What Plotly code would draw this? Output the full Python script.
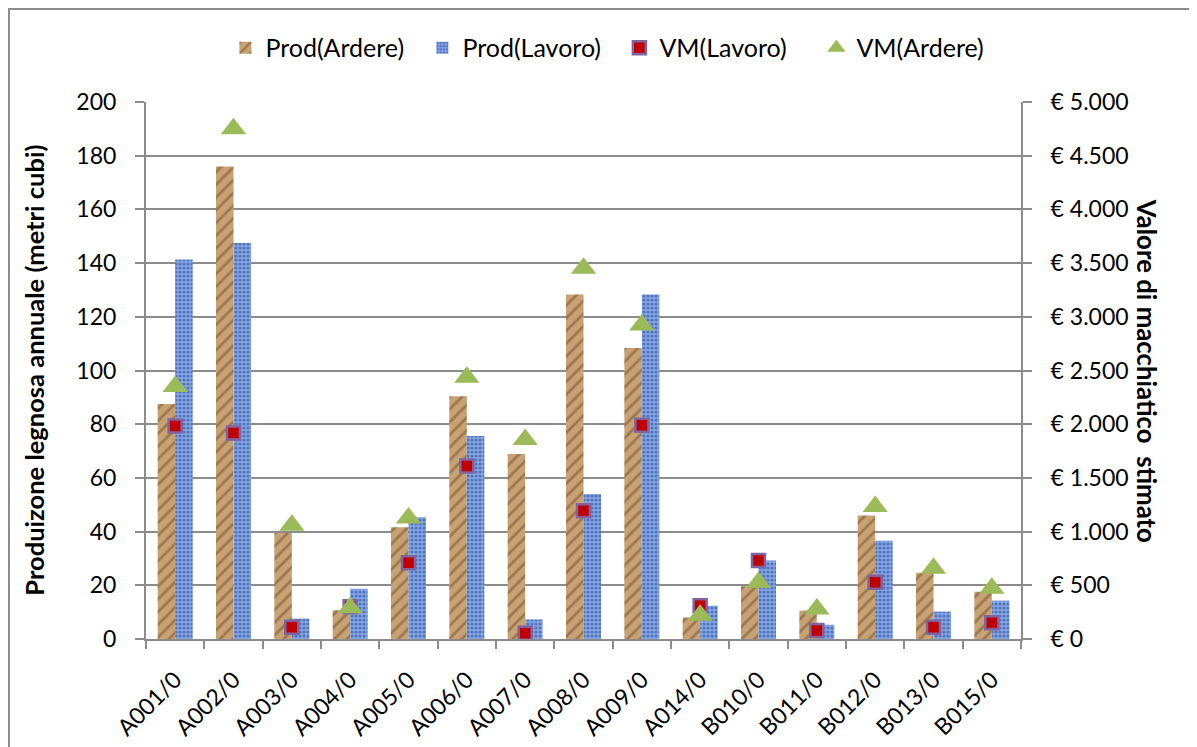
import plotly.graph_objects as go

categories = ["A001/0", "A002/0", "A003/0", "A004/0", "A005/0", "A006/0", "A007/0",
              "A008/0", "A009/0", "A014/0", "B010/0", "B011/0", "B012/0", "B013/0", "B015/0"]
prod_ardere = [87.5, 176, 39.5, 10.7, 41.6, 90.4, 68.9, 128.3, 108.4, 8, 19.6, 10.6, 46, 24.7, 17.6]
prod_lavoro = [141.3, 147.5, 7.6, 18.7, 45.3, 75.6, 7.3, 54, 128.3, 12.4, 29.2, 5.3, 36.6, 10.2, 14.3]
vm_lavoro = [1983, 1917, 110, 300, 710, 1610, 53, 1193, 1990, 310, 730, 78, 528, 109, 152]
vm_ardere = [2350, 4750, 1060, 290, 1127, 2437, 1857, 3453, 2923, 220, 525, 280, 1233, 658, 472]

left_ticks = [0, 20, 40, 60, 80, 100, 120, 140, 160, 180, 200]
right_ticks = [0, 500, 1000, 1500, 2000, 2500, 3000, 3500, 4000, 4500, 5000]
right_tick_text = ["€\u00a00", "€\u00a0500", "€\u00a01.000", "€\u00a01.500", "€\u00a02.000",
                   "€\u00a02.500", "€\u00a03.000", "€\u00a03.500", "€\u00a04.000",
                   "€\u00a04.500", "€\u00a05.000"]

FONT = "Lato"
GRID = "#8c8c8c"

fig = go.Figure()
fig.add_trace(go.Bar(
    x=categories, y=prod_ardere, name="Prod(Ardere)",
    marker=dict(color="#c49c6e", line=dict(width=0),
                pattern=dict(shape="/", fgcolor="#6e4a28", bgcolor="#c9a274",
                             size=9, solidity=0.3, fillmode="overlay")),
))
fig.add_trace(go.Bar(
    x=categories, y=prod_lavoro, name="Prod(Lavoro)",
    marker=dict(color="#7fa2e3", line=dict(width=0),
                pattern=dict(shape=".", fgcolor="#1f3f85", bgcolor="#86a9ea",
                             size=4, solidity=0.5, fillmode="overlay")),
))
fig.add_trace(go.Scatter(
    x=categories, y=vm_lavoro, name="VM(Lavoro)", yaxis="y2", mode="markers",
    marker=dict(symbol="square", size=13, color="#c00000",
                line=dict(color="#8064a2", width=2.5)),
))
fig.add_trace(go.Scatter(
    x=categories, y=vm_ardere, name="VM(Ardere)", yaxis="y2", mode="markers",
    marker=dict(symbol="triangle-up", size=22, color="#9bbb59",
                line=dict(width=0)),
))

fig.update_layout(
    width=1189, height=739,
    margin=dict(l=138, r=176, t=94, b=108, autoexpand=False),
    paper_bgcolor="white", plot_bgcolor="white",
    font=dict(family=FONT, size=23, color="black"),
    barmode="group", bargap=0.4, bargroupgap=0,
    showlegend=True,
    legend=dict(orientation="h", x=0.541, xanchor="center", y=1.1006, yanchor="middle",
                font=dict(family=FONT, size=25), itemwidth=30, traceorder="normal",
                entrywidth=152, entrywidthmode="pixels",
                bgcolor="rgba(0,0,0,0)"),
    xaxis=dict(type="category", range=[-0.5, 14.5], tickangle=-45, showline=True,
               linecolor=GRID, linewidth=2, automargin=False,
               ticks="outside", tickson="boundaries", ticklen=8, tickcolor=GRID, tickwidth=2,
               ticklabelstandoff=16,
               tickfont=dict(family=FONT, size=23), showgrid=False),
    yaxis=dict(range=[0, 200], tickvals=left_ticks, showline=True, linecolor=GRID, linewidth=2,
               ticks="outside", ticklen=9, tickcolor=GRID, tickwidth=2, ticklabelstandoff=14,
               showgrid=True, gridcolor=GRID, gridwidth=2, zeroline=False, automargin=False,
               tickfont=dict(family=FONT, size=23)),
    yaxis2=dict(range=[0, 5000], tickvals=right_ticks, ticktext=right_tick_text,
                overlaying="y", side="right", showline=True, linecolor=GRID, linewidth=2,
                ticks="outside", ticklen=9, tickcolor=GRID, tickwidth=2, ticklabelstandoff=14,
                showgrid=False, zeroline=False, automargin=False,
                tickfont=dict(family=FONT, size=23)),
    annotations=[
        dict(text="<b>Produizone legnosa annuale (metri cubi)</b>", textangle=-90,
             xref="paper", yref="paper", x=-0.129, y=0.5,
             xanchor="center", yanchor="middle", showarrow=False,
             font=dict(family=FONT, size=25.5)),
        dict(text="<b>Valore di macchiatico  stimato</b>", textangle=90,
             xref="paper", yref="paper", x=1.145, y=0.5,
             xanchor="center", yanchor="middle", showarrow=False,
             font=dict(family=FONT, size=25.8)),
    ],
    shapes=[dict(type="path", xref="paper", yref="paper",
                 path="M -0.1566 -0.3 L -0.1566 1.173 L 1.3 1.173",
                 line=dict(color="#8c8c8c", width=2))],
)

fig.write_html("out.html")
